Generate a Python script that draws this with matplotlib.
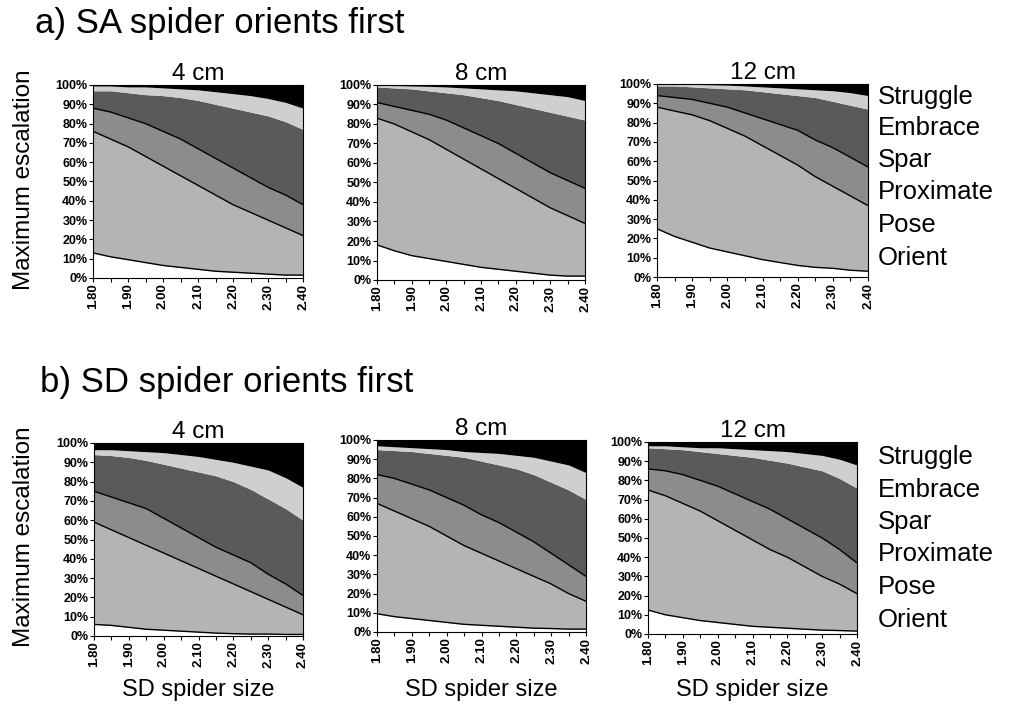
import matplotlib
matplotlib.use("Agg")
import matplotlib.pyplot as plt
import numpy as np

plt.rcParams['font.family'] = ['Liberation Sans', 'DejaVu Sans']

# SD spider size categories (0.05 steps, every other labelled)
sizes = ["1.80", "1.85", "1.90", "1.95", "2.00", "2.05", "2.10",
         "2.15", "2.20", "2.25", "2.30", "2.35", "2.40"]
levels = ["Orient", "Pose", "Proximate", "Spar", "Embrace", "Struggle"]
distances = ["4 cm", "8 cm", "12 cm"]

# cumulative tops (%) of Orient, Pose, Proximate, Spar, Embrace; Struggle fills to 100
# a) SA spider orients first
a4_orient = [13, 11, 9.5, 8, 6.5, 5.5, 4.5, 3.5, 3, 2.5, 2, 1.5, 1.5]
a4_pose = [76, 72, 68, 63, 58, 53, 48, 43, 38, 34, 30, 26, 22]
a4_prox = [88, 86, 83, 80, 76, 72, 67, 62, 57, 52, 47, 43, 38]
a4_spar = [97, 97, 96, 95, 94.5, 93.5, 92, 90, 88, 86, 84, 81, 77]
a4_embr = [99.5, 99.5, 99, 99, 98.5, 98, 97.5, 96.5, 95.5, 94.5, 93, 91, 88]

a8_orient = [18, 15, 12.5, 11, 9.5, 8, 6.5, 5.5, 4.5, 3.5, 2.5, 2, 2]
a8_pose = [83, 80, 76, 72, 67, 62, 57, 52, 47, 42, 37, 33, 29]
a8_prox = [91, 89, 87, 85, 82, 78, 74, 70, 65, 60, 55, 51, 47]
a8_spar = [99, 98.5, 98, 97, 96, 95, 93.5, 92, 90, 88, 86, 84, 82]
a8_embr = [99.8, 99.7, 99.5, 99.3, 99, 98.5, 98, 97.5, 97, 96, 95, 94, 92]

a12_orient = [25, 21, 18, 15, 13, 11, 9, 7.5, 6, 5, 4.5, 3.5, 3]
a12_pose = [88, 86, 84, 81, 77, 73, 68, 63, 58, 52, 47, 42, 37]
a12_prox = [94, 93, 92, 90, 88, 85, 82, 79, 76, 71, 67, 62, 57]
a12_spar = [99, 99, 98.5, 98, 97.5, 97, 96, 95, 94, 93, 91, 89, 87]
a12_embr = [100, 100, 99.8, 99.6, 99.4, 99, 98.5, 98, 97.5, 97, 96.5, 95.5, 94]

# b) SD spider orients first
b4_orient = [6, 5.5, 4.5, 3.5, 3, 2.5, 2, 1.5, 1.2, 1, 1, 0.8, 0.8]
b4_pose = [59, 55, 51, 47, 43, 39, 35, 31, 27, 23, 19, 15, 11]
b4_prox = [75, 72, 69, 66, 61, 56, 51, 46, 42, 38, 32, 27, 21]
b4_spar = [94, 93.5, 92.5, 91, 89, 87, 85, 83, 80, 76, 71, 66, 60]
b4_embr = [96.5, 96.5, 96, 95.5, 95, 94, 93, 91.5, 90, 88, 86, 82, 77]

b8_orient = [9.5, 8, 7, 6, 5, 4, 3.5, 3, 2.5, 2, 1.8, 1.5, 1.5]
b8_pose = [67, 63, 59, 55, 50, 45, 41, 37, 33, 29, 25, 20, 16]
b8_prox = [82, 80, 77, 74, 70, 66, 61, 57, 52, 47, 41, 35, 29]
b8_spar = [95, 94.5, 94, 93, 92, 91, 89, 87, 85, 82, 78, 74, 69]
b8_embr = [97, 96.5, 96, 95.5, 95, 94, 93.5, 93, 92, 91, 89, 87, 83]

b12_orient = [12.5, 10, 8.5, 7, 6, 5, 4, 3.5, 3, 2.5, 2, 1.8, 1.5]
b12_pose = [75, 72, 68, 64, 59, 54, 49, 44, 40, 35, 30, 26, 21]
b12_prox = [86, 85, 83, 80, 77, 73, 69, 65, 60, 55, 50, 44, 37]
b12_spar = [97, 96.5, 96, 95, 94, 93, 92, 90.5, 89, 87, 85, 81, 76]
b12_embr = [98, 98, 97.5, 97, 97, 96.5, 96, 95.5, 95, 94, 93, 91, 88]

panels_a = [
    [a4_orient, a4_pose, a4_prox, a4_spar, a4_embr],
    [a8_orient, a8_pose, a8_prox, a8_spar, a8_embr],
    [a12_orient, a12_pose, a12_prox, a12_spar, a12_embr],
]
panels_b = [
    [b4_orient, b4_pose, b4_prox, b4_spar, b4_embr],
    [b8_orient, b8_pose, b8_prox, b8_spar, b8_embr],
    [b12_orient, b12_pose, b12_prox, b12_spar, b12_embr],
]

fills = ["white", "#b4b4b4", "#8c8c8c", "#5a5a5a", "#cfcfcf", "black"]

W, H = 1009, 713
fig = plt.figure(figsize=(W / 100, H / 100), dpi=100)


def px_axes(left, top, right, bottom):
    return fig.add_axes([left / W, 1 - bottom / H, (right - left) / W, (bottom - top) / H])


def draw_panel(ax, tops, title):
    x = np.arange(len(sizes))
    lower = np.zeros(len(sizes))
    bounds = [np.array(t, dtype=float) for t in tops] + [np.full(len(sizes), 100.0)]
    for i, upper in enumerate(bounds):
        ax.fill_between(x, lower, upper, color=fills[i], lw=0)
        lower = upper
    for i in range(3):
        ax.plot(x, bounds[i], color="black", lw=1.0)
    ax.set_xlim(0, len(sizes) - 1)
    ax.set_ylim(0, 100)
    ax.set_xticks(x[::2])
    ax.set_xticklabels(sizes[::2], rotation=90, fontsize=9.5, fontweight="bold")
    ax.set_xticks(x[1::2], minor=True)
    ax.set_yticks(np.arange(0, 101, 10))
    ax.set_yticklabels([f"{v}%" for v in range(0, 101, 10)], fontsize=9, fontweight="bold")
    ax.tick_params(axis="both", which="both", direction="out", length=3, width=0.8, pad=1)
    for s in ax.spines.values():
        s.set_linewidth(0.8)
    ax.set_title(title, fontsize=17.5, pad=1)


rect_a = [(93, 85, 303, 278), (377, 85, 585, 280), (657, 84, 868, 277)]
rect_b = [(94, 443, 303, 636), (377, 440, 586, 632), (648, 442, 857, 634)]

for r, tops, d in zip(rect_a, panels_a, distances):
    draw_panel(px_axes(*r), tops, d)
for r, tops, d in zip(rect_b, panels_b, distances):
    ax = px_axes(*r)
    draw_panel(ax, tops, d)
    fig.text((r[0] + r[2]) / 2 / W, 1 - 690 / H, "SD spider size",
             fontsize=17, ha="center", va="center")

fig.text(35 / W, 1 - 24 / H, "a) SA spider orients first", fontsize=25, va="center")
fig.text(40 / W, 1 - 382 / H, "b) SD spider orients first", fontsize=25, va="center")

fig.text(24 / W, 1 - 180 / H, "Maximum escalation", fontsize=17.5, rotation=90,
         ha="center", va="center")
fig.text(24 / W, 1 - 537 / H, "Maximum escalation", fontsize=17.5, rotation=90,
         ha="center", va="center")

leg_a = [97, 128, 160, 192, 225, 258]
leg_b = [457, 490, 522, 554, 587, 620]
for name, ya, yb in zip(levels[::-1], leg_a, leg_b):
    fig.text(878 / W, 1 - ya / H, name, fontsize=18.5, va="center")
    fig.text(878 / W, 1 - yb / H, name, fontsize=18.5, va="center")

fig.savefig("out.png", dpi=100)
